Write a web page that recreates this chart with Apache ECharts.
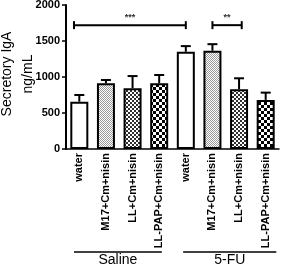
<!DOCTYPE html>
<html>
<head>
<meta charset="utf-8">
<script src="https://cdn.jsdelivr.net/npm/echarts@6/dist/echarts.min.js"></script>
<style>
  html, body { margin: 0; padding: 0; background: #fff; }
  #chart { width: 283px; height: 266px; }
</style>
</head>
<body>
<div id="chart"></div>
<script>
// 数据
const categories = ['water', 'M17+Cm+nisin', 'LL+Cm+nisin', 'LL-PAP+Cm+nisin',
                    'water', 'M17+Cm+nisin', 'LL+Cm+nisin', 'LL-PAP+Cm+nisin']
const means = [657, 912, 843, 912, 1350, 1364, 830, 682]
const errTop = [750, 958, 1013, 1028, 1429, 1456, 982, 783]
const patternIdx = [0, 1, 2, 3, 0, 1, 2, 3]
const yTicks = [0, 500, 1000, 1500, 2000]
const yTitle = ['Secretory IgA', 'ng/mL']
// 显著性标记: [起, 止, 高度, 文字]
const sigFrom = [-0.2, 5]
const sigTo = [4, 6.1]
const sigY = [1720, 1720]
const sigText = ['***', '**']
// 分组
const groupNames = ['Saline', '5-FU']
const groupFrom = [-0.2, 3.9]
const groupTo = [3.1, 7.4]

// 生成填充图案
function makePattern(cell, dark, light) {
  const c = document.createElement('canvas')
  c.width = cell * 2
  c.height = cell * 2
  const ctx = c.getContext('2d')
  ctx.fillStyle = light
  ctx.fillRect(0, 0, c.width, c.height)
  ctx.fillStyle = dark
  ctx.fillRect(0, 0, cell, cell)
  ctx.fillRect(cell, cell, cell, cell)
  return c
}
const fills = [
  '#ffffff',
  { image: makePattern(1, '#9a9a9a', '#ffffff'), repeat: 'repeat' },
  { image: makePattern(2, '#303030', '#ffffff'), repeat: 'repeat' },
  { image: makePattern(3, '#000000', '#ffffff'), repeat: 'repeat' }
]

const chart = echarts.init(document.getElementById('chart'))

const barData = means.map((v, i) => ({
  value: v,
  itemStyle: { color: fills[patternIdx[i]] }
}))

const option = {
  animation: false,
  grid: { left: 66, right: 4, top: 5, bottom: 117, outerBoundsMode: 'none', containLabel: false },
  // y轴标题
  graphic: [{
    type: 'text',
    x: 18, y: 74,
    rotation: Math.PI / 2,
    style: {
      text: yTitle.join('\n'),
      fill: '#000',
      font: '14px Liberation Sans',
      lineHeight: 21,
      align: 'center',
      verticalAlign: 'middle'
    }
  }],
  xAxis: {
    type: 'category',
    data: categories,
    axisLine: { lineStyle: { color: '#000', width: 1.5 } },
    axisTick: { alignWithLabel: true, length: 4, lineStyle: { color: '#000', width: 1.5 } },
    axisLabel: {
      rotate: 90, interval: 0, margin: 4,
      color: '#000', fontSize: 11, fontWeight: 'bold',
      fontFamily: 'Liberation Sans'
    }
  },
  yAxis: {
    type: 'value',
    min: 0, max: 2000, interval: 500,
    axisLine: { show: true, lineStyle: { color: '#000', width: 2 } },
    axisTick: { show: true, length: 4, lineStyle: { color: '#000', width: 1.5 } },
    splitLine: { show: false },
    axisLabel: {
      margin: 6, color: '#000', fontSize: 11, fontWeight: 'bold',
      fontFamily: 'Liberation Sans',
      formatter: v => yTicks.indexOf(v) >= 0 ? String(v) : ''
    }
  },
  series: [
    {
      type: 'bar',
      data: barData,
      barWidth: 18,
      itemStyle: { borderColor: '#000', borderWidth: 2 },
      z: 2
    },
    {
      // 误差线
      type: 'custom',
      data: means.map((v, i) => [i, v, errTop[i]]),
      z: 3,
      renderItem: (params, api) => {
        const p0 = api.coord([api.value(0), api.value(1)])
        const p1 = api.coord([api.value(0), api.value(2)])
        return {
          type: 'group',
          children: [
            { type: 'line', shape: { x1: p0[0], y1: p0[1], x2: p1[0], y2: p1[1] }, style: { stroke: '#000', lineWidth: 2 } },
            { type: 'line', shape: { x1: p1[0] - 5, y1: p1[1], x2: p1[0] + 5, y2: p1[1] }, style: { stroke: '#000', lineWidth: 2 } }
          ]
        }
      }
    },
    {
      // 显著性
      type: 'custom',
      data: sigFrom.map((f, i) => [f, sigTo[i], sigY[i], i]),
      z: 3,
      renderItem: (params, api) => {
        const band = api.size([1, 0])[0]
        const c0 = api.coord([0, api.value(2)])
        const y = c0[1]
        const x1 = c0[0] + api.value(0) * band
        const x2 = c0[0] + api.value(1) * band
        const t = sigText[api.value(3)]
        return {
          type: 'group',
          children: [
            { type: 'line', shape: { x1: x1, y1: y, x2: x2, y2: y }, style: { stroke: '#000', lineWidth: 2 } },
            { type: 'line', shape: { x1: x1, y1: y - 4, x2: x1, y2: y + 4 }, style: { stroke: '#000', lineWidth: 2 } },
            { type: 'line', shape: { x1: x2, y1: y - 4, x2: x2, y2: y + 4 }, style: { stroke: '#000', lineWidth: 2 } },
            { type: 'text', style: { x: (x1 + x2) / 2, y: y - 3, text: t, fill: '#333', font: 'bold 9px Liberation Sans', align: 'center', verticalAlign: 'bottom' } }
          ]
        }
      }
    },
    {
      // 分组标签
      type: 'custom',
      data: groupFrom.map((f, i) => [f, groupTo[i], i]),
      clip: false,
      z: 3,
      renderItem: (params, api) => {
        const band = api.size([1, 0])[0]
        const c0 = api.coord([0, 0])
        const x1 = c0[0] + api.value(0) * band
        const x2 = c0[0] + api.value(1) * band
        const y = c0[1] + 103
        return {
          type: 'group',
          children: [
            { type: 'line', shape: { x1: x1, y1: y, x2: x2, y2: y }, style: { stroke: '#000', lineWidth: 1.5 } },
            { type: 'text', style: { x: (x1 + x2) / 2, y: y + 1, text: groupNames[api.value(2)], fill: '#000', font: '14px Liberation Sans', align: 'center', verticalAlign: 'top' } }
          ]
        }
      }
    }
  ]
}

chart.setOption(option)
</script>
</body>
</html>
